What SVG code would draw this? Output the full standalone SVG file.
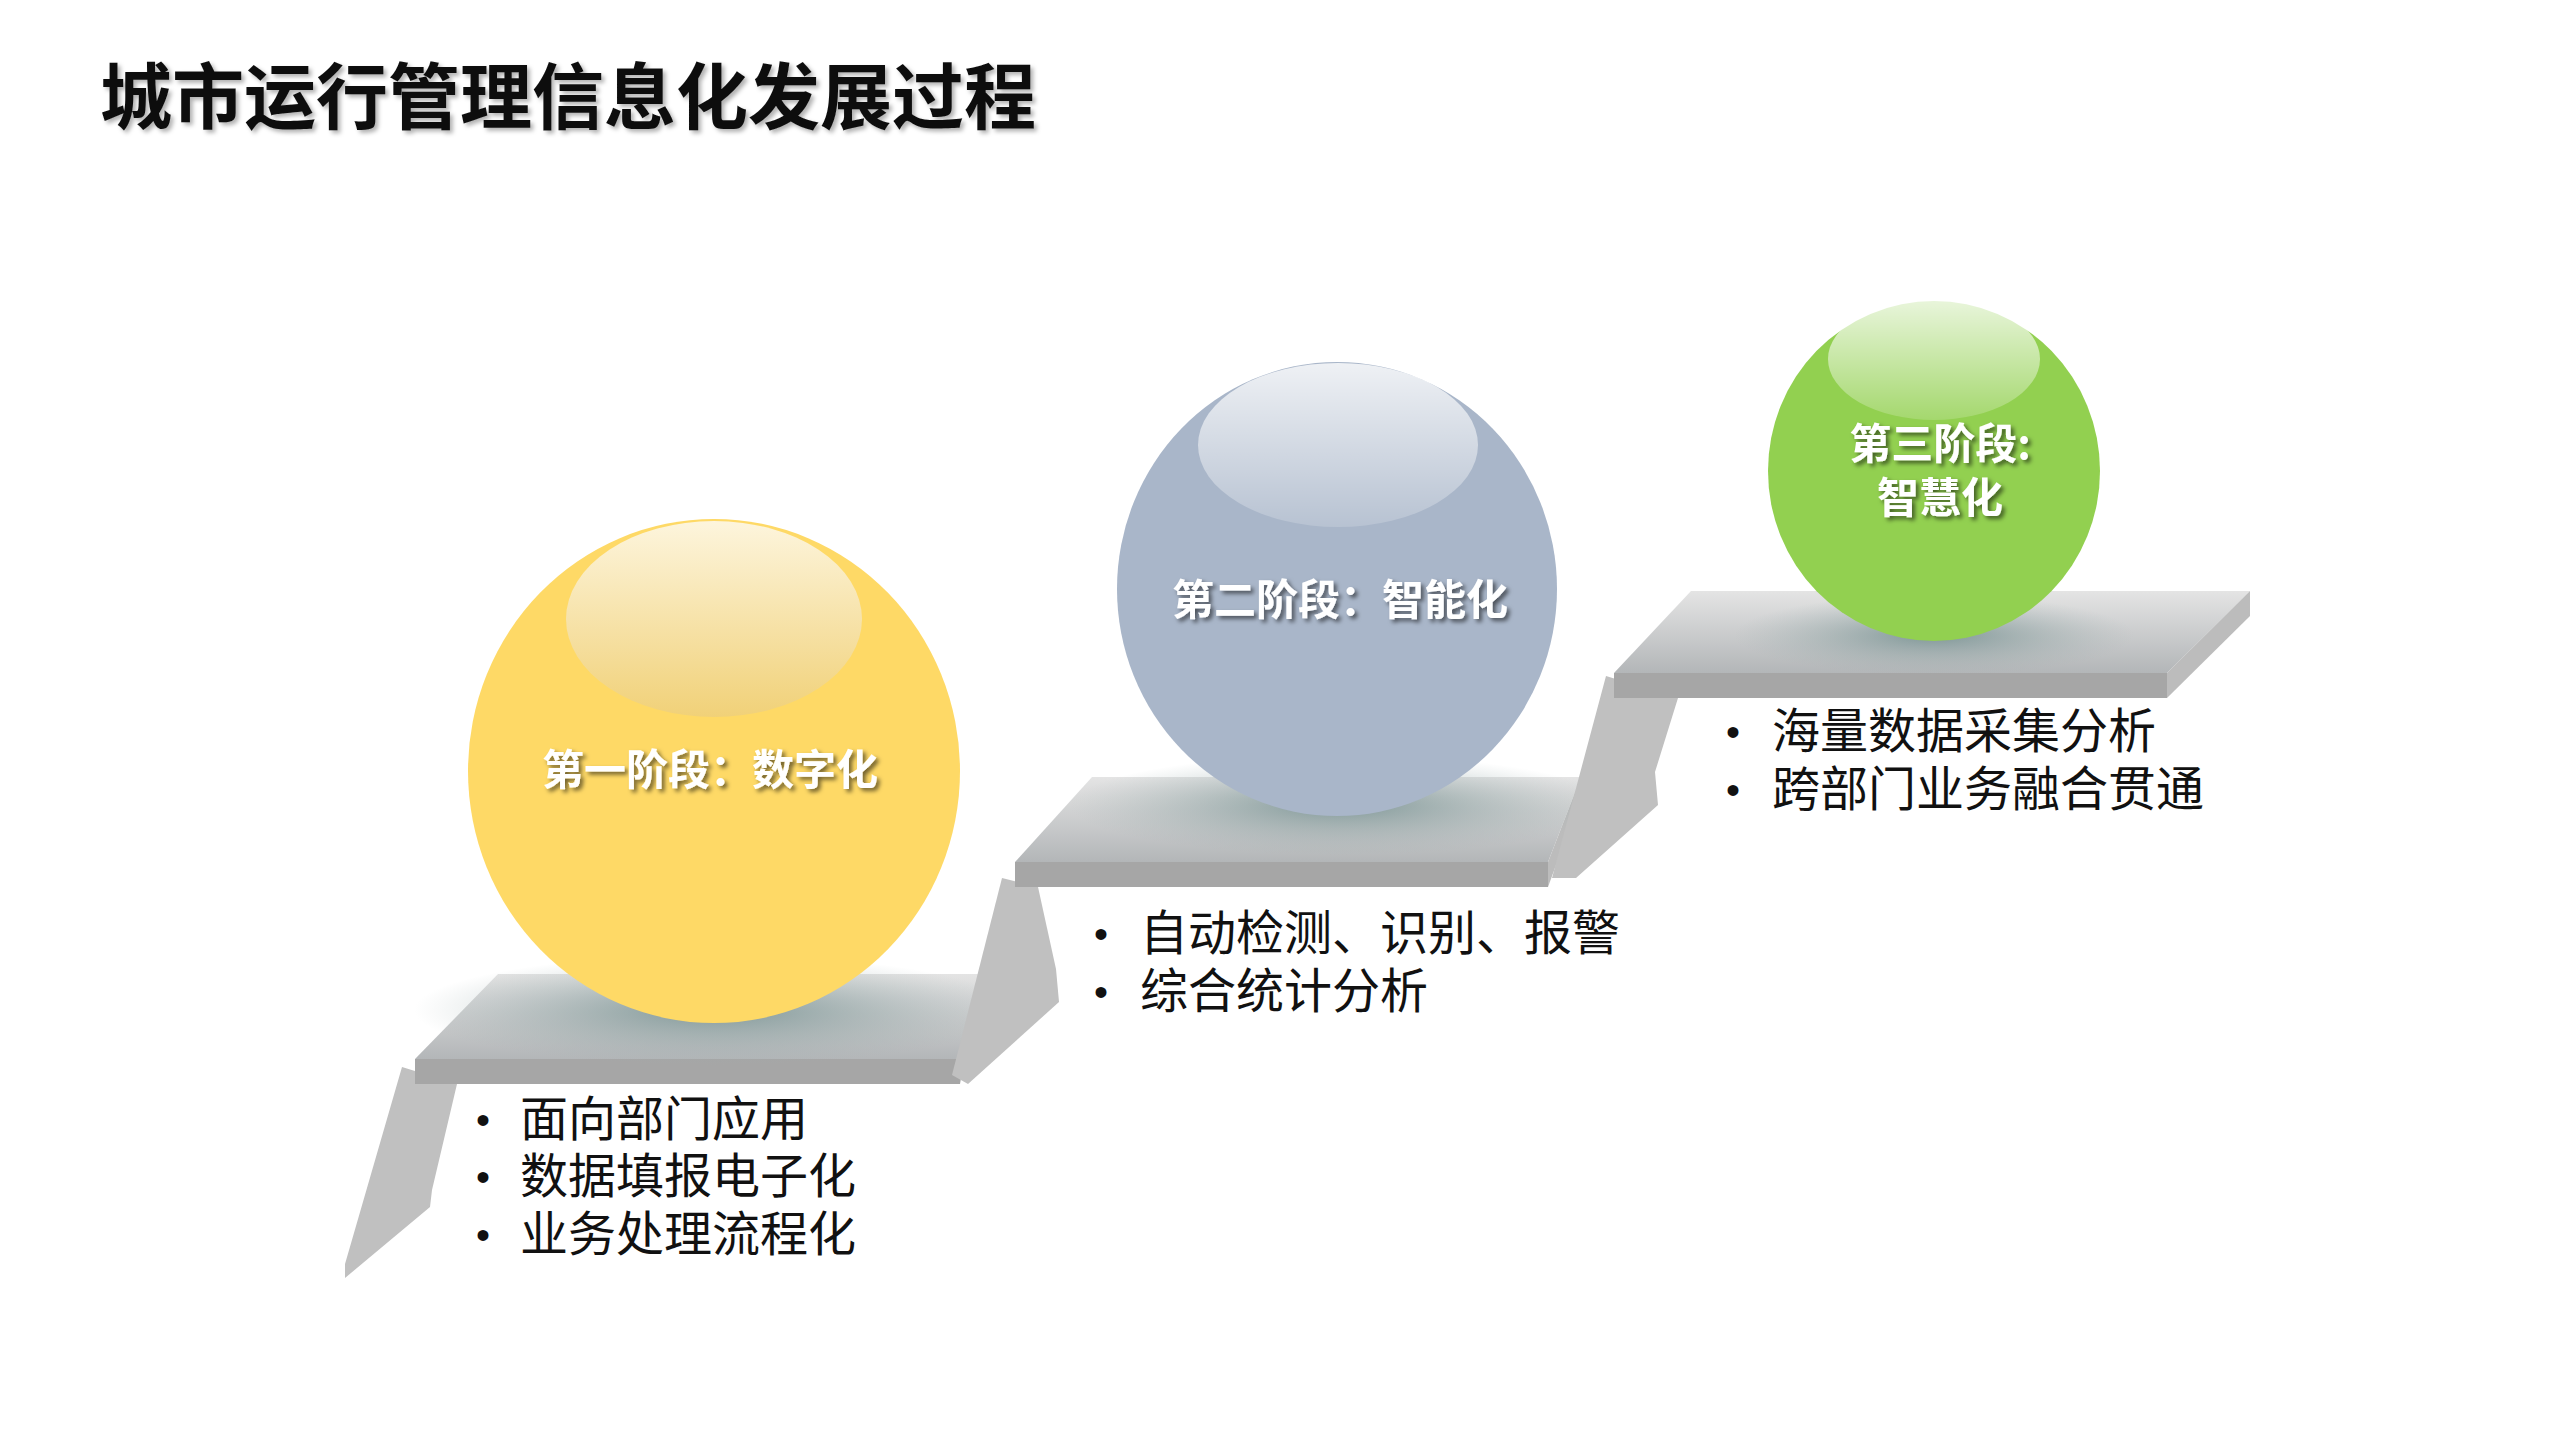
<svg xmlns="http://www.w3.org/2000/svg" width="2560" height="1440" viewBox="0 0 2560 1440">
<defs>
<style>
.title{font-family:"Noto Sans CJK SC","Liberation Serif",serif;font-size:72px;font-weight:bold;fill:#111}
.lbl{font-family:"Noto Sans CJK SC",sans-serif;font-size:42px;font-weight:bold;fill:#fff;text-anchor:middle}
.bul{font-family:"Noto Sans CJK SC",sans-serif;font-size:48px;fill:#111}
.dot{font-family:"Liberation Sans",sans-serif;font-size:40px;fill:#111}
.leg{fill:#c0c0c0}
.bar{fill:#a6a6a6}
.side{fill:#bcbcbc}
</style>
<linearGradient id="top" x1="0" y1="0" x2="0" y2="1"><stop offset="0" stop-color="#e4e4e4"/><stop offset="1" stop-color="#b3b6b8"/></linearGradient>
<radialGradient id="shd" cx="0.5" cy="0.5" r="0.5"><stop offset="0" stop-color="#6f8c8c" stop-opacity="0.85"/><stop offset="1" stop-color="#9fb0b0" stop-opacity="0"/></radialGradient>
<linearGradient id="hl" x1="0" y1="0" x2="0" y2="1"><stop offset="0" stop-color="#fff" stop-opacity="0.95"/><stop offset="1" stop-color="#fff" stop-opacity="0.2"/></linearGradient>
<linearGradient id="hly" x1="0" y1="0" x2="0" y2="1"><stop offset="0" stop-color="#fdf8ea"/><stop offset="1" stop-color="#efd07a"/></linearGradient>
<filter id="ts" x="-10%" y="-30%" width="120%" height="160%"><feDropShadow dx="3" dy="3" stdDeviation="2" flood-color="#000" flood-opacity="0.55"/></filter>
<filter id="tts"><feDropShadow dx="3" dy="3" stdDeviation="2" flood-color="#000" flood-opacity="0.3"/></filter>
</defs>
<rect width="2560" height="1440" fill="#fff"/>
<text class="title" x="100" y="123" filter="url(#tts)">城市运行管理信息化发展过程</text>

<g id="step1">
<polygon class="leg" points="402,1067 345,1264 345,1278 430,1207 432,1190 457,1084"/>
<polygon points="498,974 980,974 960,1059 415,1059" fill="url(#top)"/>
<polygon class="side" points="980,974 980,994 960,1084 960,1059"/>
<rect class="bar" x="415" y="1059" width="545" height="25"/>
<ellipse cx="714" cy="1010" rx="300" ry="55" fill="url(#shd)"/>
</g>
<g id="step2">
<polygon class="leg" points="1002,878 952,1075 968,1084 1059,1002 1056,969 1038,887"/>
<polygon points="1092,777 1581,777 1548,862 1015,862" fill="url(#top)"/>
<polygon class="side" points="1581,777 1581,797 1548,887 1548,862"/>
<rect class="bar" x="1015" y="862" width="533" height="25"/>
<ellipse cx="1340" cy="805" rx="270" ry="50" fill="url(#shd)"/>
</g>
<g id="step3">
<polygon class="leg" points="1606,676 1552,878 1576,878 1658,805 1655,772 1678,698"/>
<polygon points="1691,591 2250,591 2167,673 1614,673" fill="url(#top)"/>
<polygon class="side" points="2250,591 2250,616 2167,698 2167,673"/>
<rect class="bar" x="1614" y="673" width="553" height="25"/>
<ellipse cx="1934" cy="635" rx="200" ry="40" fill="url(#shd)"/>
</g>

<g id="sphere1">
<ellipse cx="714" cy="771" rx="246" ry="252" fill="#fed966"/>
<ellipse cx="714" cy="619" rx="148" ry="98" fill="url(#hly)" opacity="0.9"/>
<text class="lbl" x="710" y="785" filter="url(#ts)">第一阶段：数字化</text>
</g>
<g id="sphere2">
<ellipse cx="1337" cy="589" rx="220" ry="227" fill="#a9b6c9"/>
<ellipse cx="1338" cy="445" rx="140" ry="82" fill="url(#hl)" opacity="0.85"/>
<text class="lbl" x="1340" y="615" filter="url(#ts)">第二阶段：智能化</text>
</g>
<g id="sphere3">
<ellipse cx="1934" cy="471" rx="166" ry="170" fill="#92d050"/>
<ellipse cx="1934" cy="359" rx="106" ry="61" fill="url(#hl)" opacity="0.85"/>
<text class="lbl" x="1940" y="459" filter="url(#ts)">第三阶段:</text>
<text class="lbl" x="1940" y="513" filter="url(#ts)">智慧化</text>
</g>

<g id="list1" class="bul">
<text class="dot" x="476" y="1134">•</text><text x="520" y="1136">面向部门应用</text>
<text class="dot" x="476" y="1191">•</text><text x="520" y="1193">数据填报电子化</text>
<text class="dot" x="476" y="1249">•</text><text x="520" y="1251">业务处理流程化</text>
</g>
<g id="list2" class="bul">
<text class="dot" x="1094" y="948">•</text><text x="1140" y="950">自动检测、识别、报警</text>
<text class="dot" x="1094" y="1006">•</text><text x="1140" y="1008">综合统计分析</text>
</g>
<g id="list3" class="bul">
<text class="dot" x="1726" y="746">•</text><text x="1772" y="748">海量数据采集分析</text>
<text class="dot" x="1726" y="804">•</text><text x="1772" y="806">跨部门业务融合贯通</text>
</g>
<g id="connectors"/>
</svg>
